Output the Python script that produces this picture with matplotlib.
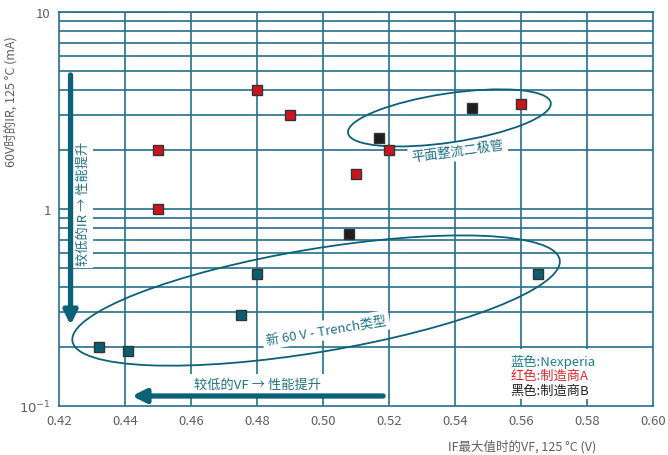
import matplotlib
matplotlib.use("Agg")
import matplotlib.pyplot as plt
from matplotlib.patches import Ellipse, Rectangle
from matplotlib.transforms import ScaledTranslation
from matplotlib.ticker import FixedLocator, FuncFormatter, NullLocator

plt.rcParams['font.family'] = ['Noto Sans CJK SC', 'DejaVu Sans']

# VF (V) and IR (mA) per supplier
nexperia_vf = [0.432, 0.441, 0.475, 0.480, 0.565]
nexperia_ir = [0.20, 0.19, 0.29, 0.47, 0.47]

maker_a_vf = [0.450, 0.450, 0.480, 0.490, 0.510, 0.520, 0.560]
maker_a_ir = [2.0, 1.0, 4.0, 3.0, 1.5, 2.0, 3.4]

maker_b_vf = [0.508, 0.517, 0.545]
maker_b_ir = [0.75, 2.3, 3.25]

x_ticks = [0.42, 0.44, 0.46, 0.48, 0.50, 0.52, 0.54, 0.56, 0.58, 0.60]
y_major = [0.1, 1, 10]
y_grid = [0.2, 0.3, 0.4, 0.5, 0.6, 0.7, 0.8, 0.9, 1, 2, 3, 4, 5, 6, 7, 8, 9, 10]

TEAL = '#0b6178'
GRID = '#24708a'
LABEL = '#5f5f5f'

fig = plt.figure(figsize=(6.68, 4.56), dpi=100)
ax = fig.add_axes([59 / 668, 1 - 407 / 456, 594 / 668, 394 / 456])
ax.set_yscale('log')
ax.set_xlim(0.42, 0.60)
ax.set_ylim(0.1, 10)

# grid
for x in x_ticks[1:-1]:
    ax.axvline(x, color=GRID, lw=1.2, zorder=1)
for y in y_grid:
    ax.axhline(y, color=GRID, lw=1.2, zorder=1)
for s in ax.spines.values():
    s.set_color(GRID)
    s.set_linewidth(1.2)

ax.xaxis.set_major_locator(FixedLocator(x_ticks))
ax.xaxis.set_major_formatter(FuncFormatter(lambda v, p: f'{v:.2f}'))
ax.yaxis.set_major_locator(FixedLocator(y_major))
ax.yaxis.set_minor_locator(NullLocator())
ax.yaxis.set_major_formatter(FuncFormatter(
    lambda v, p: {0.1: r'$10^{-1}$', 1: '1', 10: '10'}.get(round(v, 3), '')))
ax.tick_params(length=0, labelsize=9.5, labelcolor=LABEL, pad=6)

ax.set_xlabel('IF最大值时的VF, 125 °C (V)', fontsize=9, color=LABEL)
ax.xaxis.set_label_coords(0.78, -0.085)
ax.set_ylabel('60V时的IR, 125 °C (mA)', fontsize=9, color=LABEL)
ax.yaxis.set_label_coords(-0.069, 0.775)

mk = dict(marker='s', ls='none', ms=7.5, mec='#333333', mew=1.0, zorder=6)
ax.plot(nexperia_vf, nexperia_ir, mfc='#0b5e72', **mk)
ax.plot(maker_a_vf, maker_a_ir, mfc='#cc141e', **mk)
ax.plot(maker_b_vf, maker_b_ir, mfc='#1e1e1e', **mk)

# grouping ellipses (size in inches, centred on a data point)
def ring(cx, cy, w, h, ang):
    tr = fig.dpi_scale_trans + ScaledTranslation(cx, cy, ax.transData)
    e = Ellipse((0, 0), w, h, angle=ang, fill=False, ec=TEAL, lw=1.3,
                transform=tr, zorder=5, clip_on=False)
    ax.add_patch(e)

ring(0.4979, 0.343, 4.94, 1.03, 9.5)
ring(0.5383, 2.90, 2.05, 0.49, 8.5)

txt = dict(color='#1f7186', fontsize=9.5, ha='center', va='center', zorder=4,
           bbox=dict(fc='white', ec='none', pad=2.5))
ax.text(0.4273, 1.08, '较低的IR → 性能提升', rotation=90, **txt)
ax.text(0.4800, 0.129, '较低的VF → 性能提升', **txt)
ax.text(0.5009, 0.243, '新 60 V - Trench类型', rotation=9.5, **txt)
ax.text(0.5409, 1.97, '平面整流二极管', rotation=8, **txt)

# direction arrows
arr = dict(arrowstyle='-|>,head_length=0.8,head_width=0.4', color=TEAL, lw=3.8,
           shrinkA=0, shrinkB=0)
ax.annotate('', xy=(0.4235, 0.2575), xytext=(0.4235, 4.79), arrowprops=arr, zorder=5)
ax.annotate('', xy=(0.4421, 0.1124), xytext=(0.5182, 0.1124), arrowprops=arr, zorder=5)

# colour key
ax.add_patch(Rectangle((0.742, 0.018), 0.177, 0.127, transform=ax.transAxes,
                       fc='white', ec='none', zorder=3))
key = [('蓝色:Nexperia', '#1a7f91'), ('红色:制造商A', '#e0282e'), ('黑色:制造商B', '#222222')]
for i, (t, c) in enumerate(key):
    ax.text(0.760, 0.115 - i * 0.038, t, color=c, fontsize=9.5, va='center',
            transform=ax.transAxes, zorder=4)

fig.savefig('out.png', dpi=100)
